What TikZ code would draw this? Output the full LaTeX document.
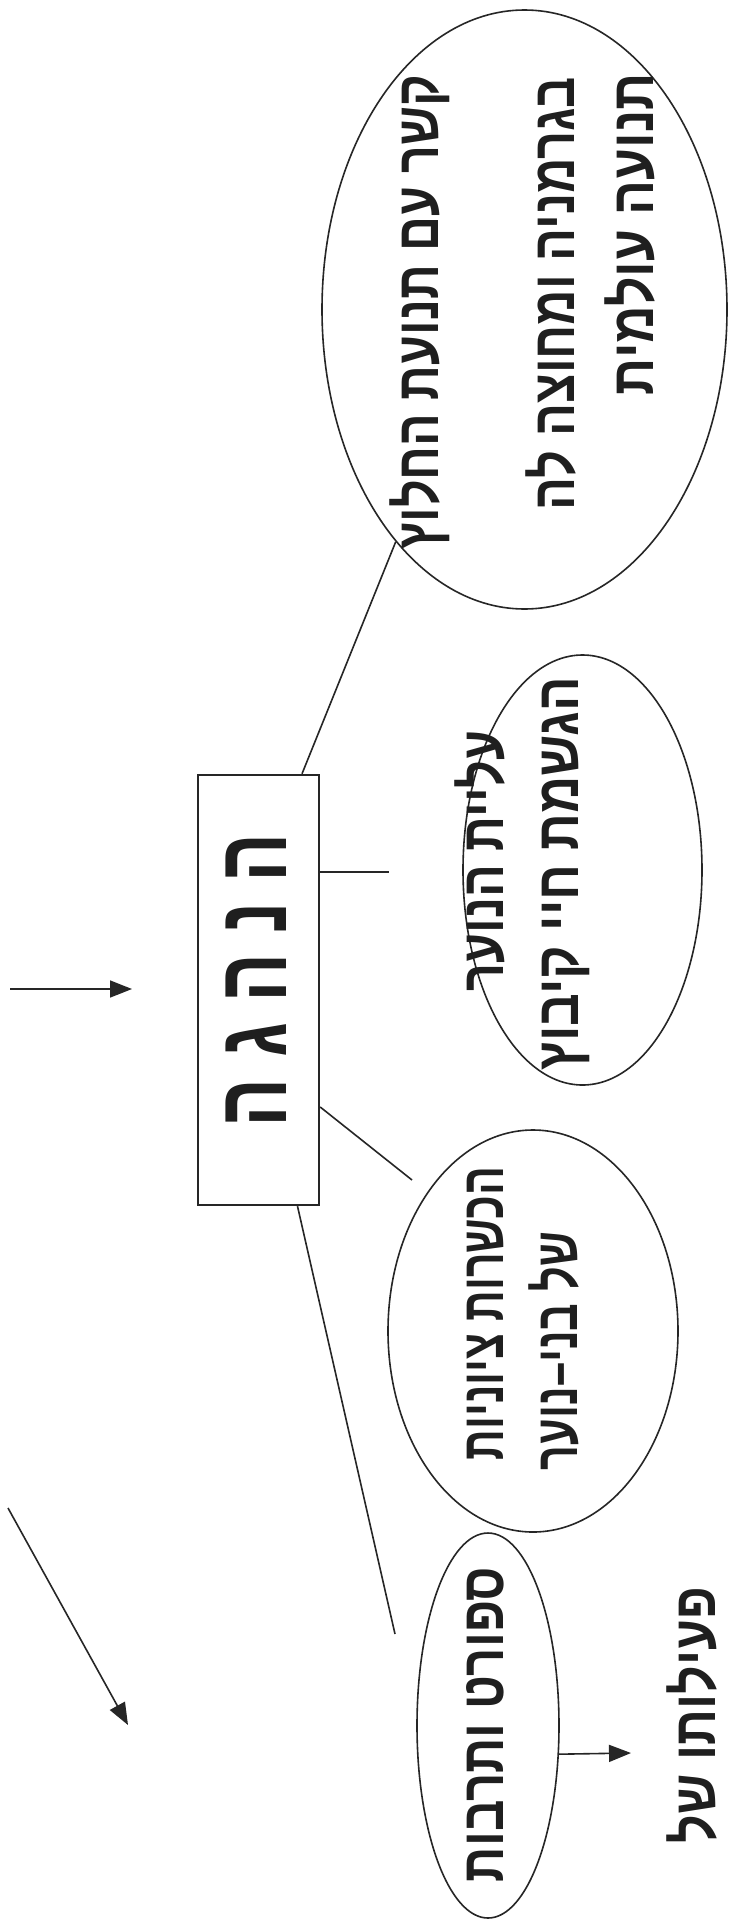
\documentclass[tikz,border=0pt]{standalone}
\usepackage{fontspec}
\usepackage{graphicx}
\usetikzlibrary{shapes.geometric,arrows.meta}
\TeXXeTstate=1
\newfontfamily\hebfont[Script=Hebrew]{Liberation Sans}
\newdimen\hebw
\newcommand\hebline[2]{%
  \settowidth\hebw{\hebfont\bfseries #2}%
  \edef\hebs{\fpeval{#1/\hebw}}%
  \scalebox{\hebs}[1]{\hebfont\bfseries #2}}
\tikzset{
  ell/.style={draw=black!85, line width=1.6pt, ellipse, inner sep=0pt},
  boxst/.style={draw=black!85, line width=2.4pt, rectangle, inner sep=0pt},
  hebtext/.style={rotate=90, anchor=base, inner sep=0pt, text=black!88,
    font=\fontsize{60}{60}\selectfont},
  conn/.style={draw=black!85, line width=1.6pt},
  arr/.style={draw=black!85, line width=1.6pt, -{Triangle[length=22pt,width=17pt]}},
}
\begin{document}
\begin{tikzpicture}[x=1pt, y=-1pt]
\useasboundingbox (0,0) rectangle (729,1919);
\fill[white] (0,0) rectangle (729,1919);

% shapes
\node[ell, minimum width=405pt, minimum height=599pt] (eTop) at (524.5,309.5) {};
\node[ell, minimum width=239pt, minimum height=430pt] (eMid) at (582.5,870) {};
\node[ell, minimum width=290pt, minimum height=402pt] (eLeft) at (533,1331) {};
\node[ell, minimum width=142pt, minimum height=385pt] (eSmall) at (488,1725.5) {};
\node[boxst, minimum width=121pt, minimum height=430pt] (box) at (258.5,990) {};

% texts
\node[hebtext, font=\fontsize{100}{100}\selectfont] (tBox) at (286,980) {\hebline{294}{\beginR ה נ ה ג ה\endR}};
\node[hebtext] (tT1) at (438,312) {\hebline{474}{\beginR קשר עם תנועת החלוץ\endR}};
\node[hebtext] (tT2) at (574,293.5) {\hebline{433}{\beginR בגרמניה ומחוצה לה\endR}};
\node[hebtext] (tT3) at (653,234) {\hebline{322}{\beginR תנועה עולמית\endR}};
\node[hebtext] (tM1) at (503,861) {\hebline{261}{\beginR עליית הנוער\endR}};
\node[hebtext] (tM2) at (578,873.5) {\hebline{393}{\beginR הגשמת חיי קיבוץ\endR}};
\node[hebtext] (tL1) at (503,1313.5) {\hebline{293}{\beginR הכשרות ציוניות\endR}};
\node[hebtext] (tL2) at (577,1351) {\hebline{238}{\beginR של בני–נוער\endR}};
\node[hebtext] (tS1) at (503,1724.5) {\hebline{315}{\beginR ספורט ותרבות\endR}};
\node[hebtext] (tB1) at (715,1715) {\hebline{256}{\beginR פעילותו של\endR}};

% free ends
\coordinate (c2) at (389,872);
\coordinate (c3) at (412,1180);
\coordinate (c4) at (395,1634);
\coordinate (c5) at (631,1753);
\coordinate (h1) at (10,989);
\coordinate (h2) at (132,989);
\coordinate (d1) at (8,1508);
\coordinate (d2) at (128,1725);

% connectors
\draw[conn] ([xshift=43.5pt]box.north) -- (eTop.241.5);
\draw[conn] ([yshift=118pt]box.east) -- (c2);
\draw[conn] ([yshift=-117pt]box.east) -- (c3);
\draw[conn] ([xshift=39pt]box.south) -- (c4);
\draw[arr] (eSmall.-22) -- (c5);
\draw[arr] (h1) -- (h2);
\draw[arr] (d1) -- (d2);
\end{tikzpicture}
\end{document}
